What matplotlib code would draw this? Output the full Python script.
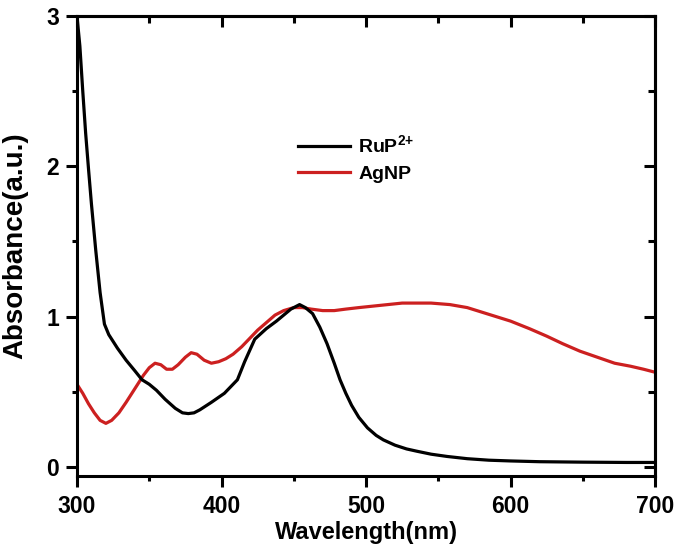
import numpy as np
import matplotlib
matplotlib.use("Agg")
import matplotlib.pyplot as plt
from matplotlib.ticker import MultipleLocator

# RuP2+ absorbance
wl_rup = [300, 302, 304, 306, 308, 310, 313, 316, 319, 322, 328, 334, 340, 345, 350, 355,
          361, 368, 373, 377, 381, 385, 393, 402, 411, 416, 423, 431, 438, 443, 448, 454,
          458, 463, 468, 473, 478, 482, 486, 490, 495, 501, 507, 512, 520, 528, 535, 545,
          556, 570, 585, 600, 620, 650, 680, 700]
ab_rup = [3.0, 2.8, 2.5, 2.22, 1.98, 1.75, 1.44, 1.16, 0.95, 0.88, 0.79, 0.71, 0.64, 0.58, 0.55, 0.51,
          0.45, 0.39, 0.36, 0.355, 0.36, 0.38, 0.43, 0.49, 0.58, 0.70, 0.85, 0.92, 0.97, 1.01, 1.05, 1.08,
          1.06, 1.02, 0.93, 0.82, 0.69, 0.58, 0.49, 0.41, 0.33, 0.26, 0.21, 0.18, 0.145, 0.12, 0.105, 0.085,
          0.07, 0.055, 0.045, 0.04, 0.035, 0.032, 0.03, 0.03]

# AgNP absorbance
wl_ag = [300, 304, 308, 312, 316, 320, 324, 329, 334, 338, 342, 346, 350, 354, 358, 362,
         366, 370, 375, 379, 383, 388, 393, 398, 403, 408, 414, 420, 425, 431, 437, 443,
         450, 456, 462, 470, 478, 486, 495, 505, 515, 525, 535, 545, 558, 570, 580, 590,
         600, 613, 625, 636, 648, 660, 672, 683, 692, 700]
ab_ag = [0.55, 0.49, 0.42, 0.36, 0.31, 0.29, 0.31, 0.36, 0.43, 0.49, 0.55, 0.61, 0.66, 0.69, 0.68, 0.65,
         0.65, 0.68, 0.73, 0.76, 0.75, 0.71, 0.69, 0.70, 0.72, 0.75, 0.80, 0.86, 0.91, 0.96, 1.01, 1.04,
         1.06, 1.06, 1.05, 1.04, 1.04, 1.05, 1.06, 1.07, 1.08, 1.09, 1.09, 1.09, 1.08, 1.06, 1.03, 1.00,
         0.97, 0.92, 0.87, 0.82, 0.77, 0.73, 0.69, 0.67, 0.65, 0.63]

red = '#cc2020'
plt.rcParams['font.family'] = ['Liberation Sans', 'DejaVu Sans']
plt.rcParams['font.weight'] = 'bold'
plt.rcParams['mathtext.fontset'] = 'custom'
plt.rcParams['mathtext.rm'] = 'Liberation Sans:bold'
plt.rcParams['mathtext.bf'] = 'Liberation Sans:bold'
plt.rcParams['mathtext.default'] = 'bf'

fig = plt.figure(figsize=(6.77, 5.49), dpi=100)
ax = fig.add_axes([0.1137, 0.133, 0.854, 0.838])

ax.plot(wl_rup, ab_rup, color='black', lw=2.3, label='RuP$^{2{+}}$', zorder=3)
ax.plot(wl_ag, ab_ag, color=red, lw=2.3, label='AgNP', zorder=2)

ax.set_xlim(300, 700)
ax.set_ylim(-0.06, 3.0)
ax.xaxis.set_major_locator(MultipleLocator(100))
ax.xaxis.set_minor_locator(MultipleLocator(50))
ax.yaxis.set_major_locator(MultipleLocator(1))
ax.yaxis.set_minor_locator(MultipleLocator(0.5))
for s in ax.spines.values():
    s.set_linewidth(2.2)
ax.tick_params(which='both', direction='out', width=2.2, labelsize=16.5, top=False, right=False)
ax.tick_params(which='major', length=8)
ax.tick_params(which='minor', length=3.5)
ax.tick_params(axis='x', pad=6)
ax.tick_params(axis='y', pad=5)
for lab in ax.get_xticklabels() + ax.get_yticklabels():
    lab.set_fontweight('bold')

# mirrored inward ticks on top and right
top = ax.secondary_xaxis('top')
top.xaxis.set_major_locator(MultipleLocator(100))
top.xaxis.set_minor_locator(MultipleLocator(50))
top.tick_params(which='both', direction='in', width=2.2, labeltop=False)
top.tick_params(which='major', length=8)
top.tick_params(which='minor', length=5)
rt = ax.secondary_yaxis('right')
rt.yaxis.set_major_locator(MultipleLocator(1))
rt.yaxis.set_minor_locator(MultipleLocator(0.5))
rt.tick_params(which='both', direction='in', width=2.2, labelright=False)
rt.tick_params(which='major', length=8)
rt.tick_params(which='minor', length=5)
for s in list(top.spines.values()) + list(rt.spines.values()):
    s.set_linewidth(2.2)

ax.set_xlabel('Wavelength(nm)', fontsize=17, fontweight='bold', labelpad=2)
ax.set_ylabel('Absorbance(a.u.)', fontsize=20, fontweight='bold', labelpad=13)

leg = ax.legend(loc='upper left', bbox_to_anchor=(0.352, 0.78), frameon=False,
                fontsize=14, handlelength=2.7, handletextpad=0.4, labelspacing=0.45)
for t in leg.get_texts():
    t.set_fontweight('bold')

fig.savefig('out.png', dpi=100)
